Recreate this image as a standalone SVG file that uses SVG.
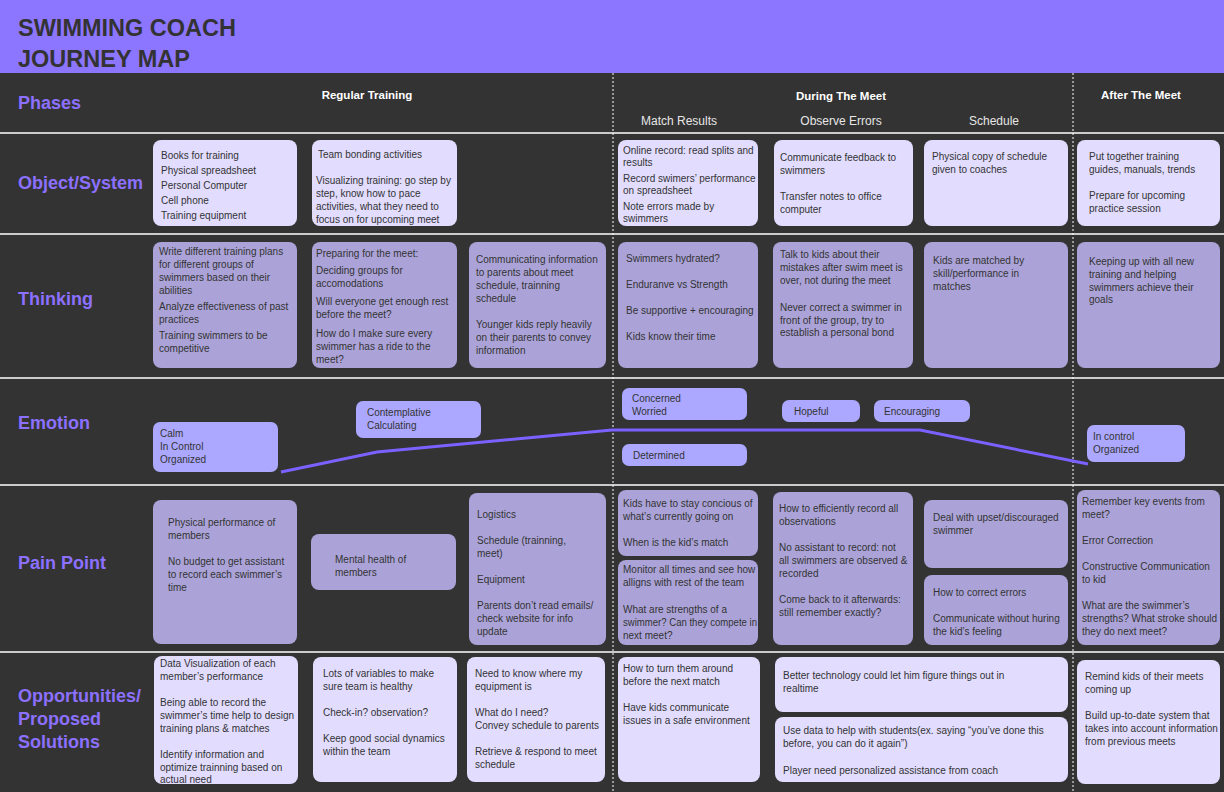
<svg xmlns="http://www.w3.org/2000/svg" width="1224" height="792" viewBox="0 0 1224 792">
<style>
.bg{fill:#333333}
.hdr{fill:#8C75FF}
.title{font-family:"Liberation Sans",Arial,sans-serif;font-weight:bold;font-size:23.5px;fill:#333333}
.row{font-family:"Liberation Sans",Arial,sans-serif;font-weight:bold;font-size:18px;fill:#8C70FF}
.ph{font-family:"Liberation Sans",Arial,sans-serif;font-weight:bold;font-size:11.5px;fill:#ffffff}
.sub{font-family:"Liberation Sans",Arial,sans-serif;font-size:12px;fill:#e6e6e6}
.t{font-family:"Liberation Sans",Arial,sans-serif;font-size:10px;fill:#333333}
.light{fill:#E2DDFF}
.mid{fill:#ABA3D8}
.emo{fill:#ACA8FF}
.hl{stroke:#ffffff;stroke-width:1.5}
.vl{stroke:#ffffff;stroke-width:1;stroke-dasharray:2 2}
.curve{fill:none;stroke:#7B61FF;stroke-width:3}
</style>
<rect class="bg" x="0" y="0" width="1224" height="792"/>
<rect class="hdr" x="0" y="0" width="1224" height="73"/>
<text class="title" x="18" y="36">SWIMMING COACH</text>
<text class="title" x="18" y="67">JOURNEY MAP</text>

<g id="grid">
<line class="hl" x1="0" y1="133" x2="1224" y2="133"/>
<line class="hl" x1="0" y1="234" x2="1224" y2="234"/>
<line class="hl" x1="0" y1="378" x2="1224" y2="378"/>
<line class="hl" x1="0" y1="485" x2="1224" y2="485"/>
<line class="hl" x1="0" y1="652" x2="1224" y2="652"/>
<line class="vl" x1="613" y1="73" x2="613" y2="792"/>
<line class="vl" x1="1073" y1="73" x2="1073" y2="792"/>
</g>

<g id="row-labels">
<text class="row" x="18" y="109">Phases</text>
<text class="row" x="18" y="189">Object/System</text>
<text class="row" x="18" y="305">Thinking</text>
<text class="row" x="18" y="429">Emotion</text>
<text class="row" x="18" y="569">Pain Point</text>
<text class="row" x="18" y="702">Opportunities/</text>
<text class="row" x="18" y="725">Proposed</text>
<text class="row" x="18" y="748">Solutions</text>
</g>

<g id="phases">
<text class="ph" x="367" y="99" text-anchor="middle">Regular Training</text>
<text class="ph" x="841" y="100" text-anchor="middle">During The Meet</text>
<text class="ph" x="1141" y="99" text-anchor="middle">After The Meet</text>
<text class="sub" x="679" y="125" text-anchor="middle">Match Results</text>
<text class="sub" x="841" y="125" text-anchor="middle">Observe Errors</text>
<text class="sub" x="994" y="125" text-anchor="middle">Schedule</text>
</g>

<!-- Object/System -->
<g id="obj1"><rect class="light" x="153" y="140" width="144" height="86" rx="8"/>
<text class="t" x="161"><tspan x="161" y="159">Books for training</tspan><tspan x="161" y="174">Physical spreadsheet</tspan><tspan x="161" y="189">Personal Computer</tspan><tspan x="161" y="204">Cell phone</tspan><tspan x="161" y="219">Training equipment</tspan></text></g>
<g id="obj2"><rect class="light" x="312" y="140" width="145" height="86" rx="8"/>
<text class="t"><tspan x="318" y="158">Team bonding activities</tspan><tspan x="316" y="184">Visualizing training: go step by</tspan><tspan x="316" y="197">step, know how to pace</tspan><tspan x="316" y="210">activities, what they need to</tspan><tspan x="316" y="223">focus on for upcoming meet</tspan></text></g>
<g id="obj3"><rect class="light" x="618" y="140" width="140" height="86" rx="8"/>
<text class="t"><tspan x="623" y="154">Online record: read splits and</tspan><tspan x="623" y="166">results</tspan><tspan x="623" y="182">Record swimers’ performance</tspan><tspan x="623" y="194">on spreadsheet</tspan><tspan x="623" y="210">Note errors made by</tspan><tspan x="623" y="222">swimmers</tspan></text></g>
<g id="obj4"><rect class="light" x="774" y="140" width="139" height="86" rx="8"/>
<text class="t"><tspan x="780" y="161">Communicate feedback to</tspan><tspan x="780" y="174">swimmers</tspan><tspan x="780" y="200">Transfer notes to office</tspan><tspan x="780" y="213">computer</tspan></text></g>
<g id="obj5"><rect class="light" x="924" y="140" width="144" height="86" rx="8"/>
<text class="t"><tspan x="932" y="160">Physical copy of schedule</tspan><tspan x="932" y="173">given to coaches</tspan></text></g>
<g id="obj6"><rect class="light" x="1077" y="140" width="143" height="86" rx="8"/>
<text class="t"><tspan x="1089" y="160">Put together training</tspan><tspan x="1089" y="173">guides, manuals, trends</tspan><tspan x="1089" y="199">Prepare for upcoming</tspan><tspan x="1089" y="212">practice session</tspan></text></g>

<!-- Thinking -->
<g id="think1"><rect class="mid" x="153" y="242" width="144" height="126" rx="8"/>
<text class="t"><tspan x="159" y="255">Write different training plans</tspan><tspan x="159" y="268">for different groups of</tspan><tspan x="159" y="281">swimmers based on their</tspan><tspan x="159" y="294">abilities</tspan><tspan x="159" y="310">Analyze effectiveness of past</tspan><tspan x="159" y="323">practices</tspan><tspan x="159" y="339">Training swimmers to be</tspan><tspan x="159" y="352">competitive</tspan></text></g>
<g id="think2"><rect class="mid" x="312" y="242" width="145" height="126" rx="8"/>
<text class="t"><tspan x="316" y="257">Preparing for the meet:</tspan><tspan x="316" y="274">Deciding groups for</tspan><tspan x="316" y="287">accomodations</tspan><tspan x="316" y="305">Will everyone get enough rest</tspan><tspan x="316" y="318">before the meet?</tspan><tspan x="316" y="337">How do I make sure every</tspan><tspan x="316" y="350">swimmer has a ride to the</tspan><tspan x="316" y="363">meet?</tspan></text></g>
<g id="think3"><rect class="mid" x="469" y="242" width="137" height="126" rx="8"/>
<text class="t"><tspan x="476" y="263">Communicating information</tspan><tspan x="476" y="276">to parents about meet</tspan><tspan x="476" y="289">schedule, trainning</tspan><tspan x="476" y="302">schedule</tspan><tspan x="476" y="328">Younger kids reply heavily</tspan><tspan x="476" y="341">on their parents to convey</tspan><tspan x="476" y="354">information</tspan></text></g>
<g id="think4"><rect class="mid" x="618" y="242" width="140" height="126" rx="8"/>
<text class="t"><tspan x="626" y="262">Swimmers hydrated?</tspan><tspan x="626" y="288">Enduranve vs Strength</tspan><tspan x="626" y="314">Be supportive + encouraging</tspan><tspan x="626" y="340">Kids know their time</tspan></text></g>
<g id="think5"><rect class="mid" x="773" y="242" width="140" height="126" rx="8"/>
<text class="t"><tspan x="780" y="258">Talk to kids about their</tspan><tspan x="780" y="271">mistakes after swim meet is</tspan><tspan x="780" y="284">over, not during the meet</tspan><tspan x="780" y="311">Never correct a swimmer in</tspan><tspan x="780" y="324">front of the group, try to</tspan><tspan x="780" y="336">establish a personal bond</tspan></text></g>
<g id="think6"><rect class="mid" x="924" y="242" width="144" height="126" rx="8"/>
<text class="t"><tspan x="933" y="264">Kids are matched by</tspan><tspan x="933" y="277">skill/performance in</tspan><tspan x="933" y="290">matches</tspan></text></g>
<g id="think7"><rect class="mid" x="1077" y="242" width="143" height="126" rx="8"/>
<text class="t"><tspan x="1089" y="265">Keeping up with all new</tspan><tspan x="1089" y="278">training and helping</tspan><tspan x="1089" y="291">swimmers achieve their</tspan><tspan x="1089" y="303">goals</tspan></text></g>

<!-- Emotion connector -->
<g id="connectors">
<polyline class="curve" points="281,472 377,452 612,430 920,430 1088,464"/>
</g>

<g id="emo-calm"><rect class="emo" x="153" y="422" width="125" height="50" rx="7"/>
<text class="t"><tspan x="160" y="437">Calm</tspan><tspan x="160" y="450">In Control</tspan><tspan x="160" y="463">Organized</tspan></text></g>
<g id="emo-contemplative"><rect class="emo" x="356" y="401" width="125" height="37" rx="7"/>
<text class="t"><tspan x="367" y="416">Contemplative</tspan><tspan x="367" y="429">Calculating</tspan></text></g>
<g id="emo-concerned"><rect class="emo" x="622" y="388" width="125" height="32" rx="7"/>
<text class="t"><tspan x="632" y="402">Concerned</tspan><tspan x="632" y="415">Worried</tspan></text></g>
<g id="emo-determined"><rect class="emo" x="622" y="444" width="125" height="22" rx="7"/>
<text class="t"><tspan x="633" y="459">Determined</tspan></text></g>
<g id="emo-hopeful"><rect class="emo" x="782" y="400" width="78" height="22" rx="7"/>
<text class="t"><tspan x="794" y="415">Hopeful</tspan></text></g>
<g id="emo-encouraging"><rect class="emo" x="874" y="400" width="96" height="22" rx="7"/>
<text class="t"><tspan x="884" y="415">Encouraging</tspan></text></g>
<g id="emo-incontrol"><rect class="emo" x="1087" y="425" width="98" height="37" rx="7"/>
<text class="t"><tspan x="1093" y="440">In control</tspan><tspan x="1093" y="453">Organized</tspan></text></g>

<!-- Pain Point -->
<g id="pain1"><rect class="mid" x="153" y="500" width="144" height="144" rx="8"/>
<text class="t"><tspan x="168" y="526">Physical performance of</tspan><tspan x="168" y="539">members</tspan><tspan x="168" y="565">No budget to get assistant</tspan><tspan x="168" y="578">to record each swimmer’s</tspan><tspan x="168" y="591">time</tspan></text></g>
<g id="pain2"><rect class="mid" x="311" y="534" width="145" height="56" rx="8"/>
<text class="t"><tspan x="335" y="563">Mental health of</tspan><tspan x="335" y="576">members</tspan></text></g>
<g id="pain3"><rect class="mid" x="469" y="493" width="137" height="152" rx="8"/>
<text class="t"><tspan x="477" y="518">Logistics</tspan><tspan x="477" y="544">Schedule (trainning,</tspan><tspan x="477" y="557">meet)</tspan><tspan x="477" y="583">Equipment</tspan><tspan x="477" y="609">Parents don’t read emails/</tspan><tspan x="477" y="622">check website for info</tspan><tspan x="477" y="635">update</tspan></text></g>
<g id="pain4a"><rect class="mid" x="618" y="490" width="140" height="66" rx="8"/>
<text class="t"><tspan x="623" y="507">Kids have to stay concious of</tspan><tspan x="623" y="520">what’s currently going on</tspan><tspan x="623" y="546">When is the kid’s match</tspan></text></g>
<g id="pain4b"><rect class="mid" x="618" y="560" width="140" height="85" rx="8"/>
<text class="t"><tspan x="623" y="573">Monitor all times and see how</tspan><tspan x="623" y="586">alligns with rest of the team</tspan><tspan x="623" y="613">What are strengths of a</tspan><tspan x="623" y="626" textLength="134" lengthAdjust="spacingAndGlyphs">swimmer? Can they compete in</tspan><tspan x="623" y="639">next meet?</tspan></text></g>
<g id="pain5"><rect class="mid" x="773" y="492" width="140" height="153" rx="8"/>
<text class="t"><tspan x="779" y="512">How to efficiently record all</tspan><tspan x="779" y="525">observations</tspan><tspan x="779" y="551">No assistant to record: not</tspan><tspan x="779" y="564">all swimmers are observed &amp;</tspan><tspan x="779" y="577">recorded</tspan><tspan x="779" y="603">Come back to it afterwards:</tspan><tspan x="779" y="616">still remember exactly?</tspan></text></g>
<g id="pain6a"><rect class="mid" x="924" y="500" width="144" height="68" rx="8"/>
<text class="t"><tspan x="933" y="521">Deal with upset/discouraged</tspan><tspan x="933" y="534">swimmer</tspan></text></g>
<g id="pain6b"><rect class="mid" x="924" y="575" width="144" height="70" rx="8"/>
<text class="t"><tspan x="933" y="596">How to correct errors</tspan><tspan x="933" y="622">Communicate without huring</tspan><tspan x="933" y="635">the kid’s feeling</tspan></text></g>
<g id="pain7"><rect class="mid" x="1077" y="490" width="143" height="155" rx="8"/>
<text class="t"><tspan x="1082" y="505">Remember key events from</tspan><tspan x="1082" y="518">meet?</tspan><tspan x="1082" y="544">Error Correction</tspan><tspan x="1082" y="570">Constructive Communication</tspan><tspan x="1082" y="583">to kid</tspan><tspan x="1082" y="609">What are the swimmer’s</tspan><tspan x="1082" y="622">strengths? What stroke should</tspan><tspan x="1082" y="635">they do next meet?</tspan></text></g>

<!-- Opportunities -->
<g id="opp1"><rect class="light" x="154" y="656" width="144" height="128" rx="8"/>
<text class="t"><tspan x="160" y="667">Data Visualization of each</tspan><tspan x="160" y="680">member’s performance</tspan><tspan x="160" y="706">Being able to record the</tspan><tspan x="160" y="719">swimmer’s time help to design</tspan><tspan x="160" y="732">training plans &amp; matches</tspan><tspan x="160" y="758">Identify information and</tspan><tspan x="160" y="771">optimize trainning based on</tspan><tspan x="160" y="783">actual need</tspan></text></g>
<g id="opp2"><rect class="light" x="313" y="657" width="144" height="125" rx="8"/>
<text class="t"><tspan x="323" y="677">Lots of variables to make</tspan><tspan x="323" y="690">sure team is healthy</tspan><tspan x="323" y="716">Check-in? observation?</tspan><tspan x="323" y="742">Keep good social dynamics</tspan><tspan x="323" y="755">within the team</tspan></text></g>
<g id="opp3"><rect class="light" x="467" y="657" width="138" height="125" rx="8"/>
<text class="t"><tspan x="475" y="677">Need to know where my</tspan><tspan x="475" y="690">equipment is</tspan><tspan x="475" y="716">What do I need?</tspan><tspan x="475" y="729">Convey schedule to parents</tspan><tspan x="475" y="755">Retrieve &amp; respond to meet</tspan><tspan x="475" y="768">schedule</tspan></text></g>
<g id="opp4"><rect class="light" x="618" y="657" width="142" height="125" rx="8"/>
<text class="t"><tspan x="623" y="672">How to turn them around</tspan><tspan x="623" y="685">before the next match</tspan><tspan x="623" y="711">Have kids communicate</tspan><tspan x="623" y="724">issues in a safe environment</tspan></text></g>
<g id="opp5a"><rect class="light" x="775" y="657" width="293" height="55" rx="8"/>
<text class="t"><tspan x="783" y="679">Better technology could let him figure things out in</tspan><tspan x="783" y="692">realtime</tspan></text></g>
<g id="opp5b"><rect class="light" x="775" y="717" width="293" height="65" rx="8"/>
<text class="t"><tspan x="783" y="734">Use data to help with students(ex. saying “you’ve done this</tspan><tspan x="783" y="747">before, you can do it again”)</tspan><tspan x="783" y="774">Player need personalized assistance from coach</tspan></text></g>
<g id="opp6"><rect class="light" x="1077" y="660" width="143" height="124" rx="8"/>
<text class="t"><tspan x="1085" y="680">Remind kids of their meets</tspan><tspan x="1085" y="693">coming up</tspan><tspan x="1085" y="719">Build up-to-date system that</tspan><tspan x="1085" y="732">takes into account information</tspan><tspan x="1085" y="745">from previous meets</tspan></text></g>
</svg>
